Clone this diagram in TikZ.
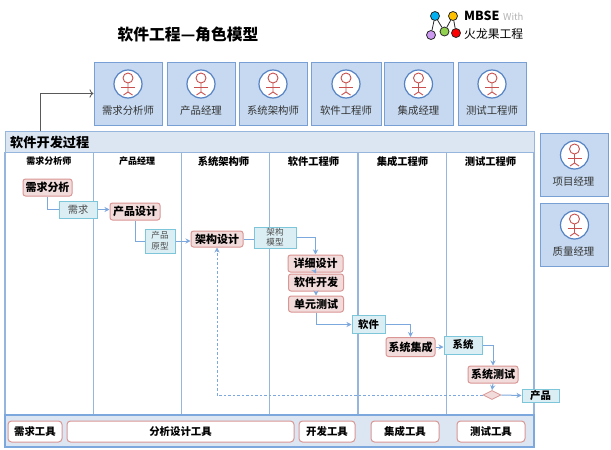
\documentclass[tikz,border=0pt]{standalone}
\usepackage{fontspec}
\setmainfont{Noto Sans CJK SC}
\usepackage{xcolor}
\usetikzlibrary{calc,arrows.meta,shapes.geometric}
\definecolor{roleFill}{RGB}{198, 217, 240}
\definecolor{roleLine}{RGB}{120, 160, 212}
\definecolor{actorLine}{RGB}{85, 130, 195}
\definecolor{barFill}{RGB}{220, 230, 242}
\definecolor{laneLine}{RGB}{150, 182, 222}
\definecolor{actFill}{RGB}{242, 220, 219}
\definecolor{actLine}{RGB}{217, 150, 148}
\definecolor{objFill}{RGB}{219, 238, 244}
\definecolor{objLine}{RGB}{125, 198, 218}
\definecolor{flowLine}{RGB}{125, 168, 222}
\definecolor{figRed}{RGB}{200, 80, 78}
\definecolor{logoBlue}{RGB}{0, 176, 240}
\definecolor{logoYellow}{RGB}{255, 192, 0}
\definecolor{logoPurple}{RGB}{204, 153, 240}
\definecolor{logoGreen}{RGB}{146, 208, 80}
\newcommand{\px}[1]{\fontsize{#1}{#1}\selectfont}
\tikzset{
  rolebox/.style={draw=roleLine,fill=roleFill,line width=1pt,inner sep=0pt},
  rolename/.style={font=\px{10.4},text=black!80,inner sep=0pt},
  lanehead/.style={font=\px{10.3}\bfseries,inner sep=0pt},
  act/.style={draw=actLine,fill=actFill,line width=1pt,rounded corners=2.5pt,font=\px{11}\bfseries,inner sep=0pt},
  obj/.style={draw=objLine,fill=objFill,line width=1pt,inner sep=0pt,font=\px{10.2}},
  tool/.style={draw=actLine,fill=white,line width=1pt,rounded corners=3.5pt,font=\px{10.4}\bfseries,inner sep=0pt},
  flow/.style={draw=flowLine,line width=1pt,-{Stealth[length=5pt,width=5pt]}},
  logodot/.style={draw=black!85,line width=0.8pt,circle,minimum size=9pt,inner sep=0pt},
  actor/.pic={
    \draw[actorLine,fill=white,line width=1.2pt] (0,0) circle (14);
    \draw[figRed,line width=0.9pt] (0,-6) circle (5);
    \draw[figRed,line width=0.9pt] (0,-1) -- (0,8) -- (-4.5,11);
    \draw[figRed,line width=0.9pt] (0,8) -- (4.5,11);
    \draw[figRed,line width=0.9pt] (-7,3.5) -- (7,3.5);
  }
}

\begin{document}
\begin{tikzpicture}[x=1pt,y=-1pt]
    \useasboundingbox (0,0) rectangle (611,450);
    \node[font=\px{15.8}\bfseries,inner sep=0pt] (title) at (188,34) {软件工程—角色模型};
    % logo
    \node[logodot,fill=logoBlue] (dotBlue) at (435,16) {};
    \node[logodot,fill=logoYellow] (dotYellow) at (453,16) {};
    \node[logodot,fill=logoPurple] (dotPurple) at (431,35) {};
    \node[logodot,fill=logoGreen] (dotGreen) at (444.5,31.5) {};
    \node[logodot,fill=red] (dotRed) at (456,33) {};
    \draw[black!85,line width=0.8pt] (dotPurple) -- (dotBlue) -- (dotGreen) -- (dotYellow) -- (dotRed);
    \node[anchor=west,font=\px{12.5}\bfseries,inner sep=0pt] (logoA) at (464,16) {MBSE};
    \node[anchor=west,font=\px{9.5},text=black!30,inner sep=0pt] (logoB) at (503,17) {With};
    \node[anchor=west,font=\px{11.8},inner sep=0pt] (logoC) at (464,34.5) {火龙果工程};
    % roles
    \foreach \xa/\xb/\nm/\lab in {94/162/roleA/需求分析师,167/235/roleB/产品经理,239/307/roleC/系统架构师,311/381/roleD/软件工程师,384/453/roleE/集成经理,458/526/roleF/测试工程师}{
      \node[rolebox,minimum width={\xb-\xa},minimum height=63] (\nm) at ({(\xa+\xb)/2},93.5) {};
      \pic at ({(\xa+\xb)/2},84) {actor};
      \node[rolename] at ({(\xa+\xb)/2},111) {\lab};
    }
    \foreach \yc/\nm/\lab in {164.5/roleG/项目经理,234.5/roleH/质量经理}{
      \node[rolebox,minimum width=68,minimum height=63] (\nm) at (574,\yc) {};
      \pic at (574.5,\yc-9.5) {actor};
      \node[rolename] at (573.5,\yc+17.5) {\lab};
    }
    % lanes
    \draw[fill=white,draw=none] (5,152) rectangle (534,415);
    \foreach \xa in {93,181,269,446}{
      \draw[laneLine,line width=0.8pt] (\xa,152) -- (\xa,415);
    }
    \draw[laneLine,line width=1.3pt] (5,152) -- (5,415);
    \draw[laneLine,line width=1.3pt] (358,152) -- (358,415);
    \draw[laneLine,line width=1.3pt] (534,152) -- (534,415);
    \node[draw=laneLine,fill=barFill,line width=1pt,minimum width=529,minimum height=21,inner sep=0pt] (procBar) at (269.5,141.5) {};
    \node[anchor=west,font=\px{13.2}\bfseries,inner sep=0pt] (procTitle) at (10,142) {软件开发过程};
    \coordinate (procUp) at (40,131);
    \draw[black!65,line width=0.8pt,-{To[length=4pt]}] (procUp) |- (roleA.west);
    \node[lanehead,font=\px{9}\bfseries] at (49,161) {需求分析师};
    \node[lanehead,font=\px{9}\bfseries] at (137,161) {产品经理};
    \node[lanehead] at (223.5,162) {系统架构师};
    \node[lanehead] at (313.5,161.5) {软件工程师};
    \node[lanehead] at (402.5,161.5) {集成工程师};
    \node[lanehead] at (490.5,161.5) {测试工程师};
    % tools
    \node[draw=flowLine,fill=barFill,line width=1.1pt,minimum width=529,minimum height=32,inner sep=0pt] (toolBar) at (269.5,431) {};
    \node[tool,minimum width=54,minimum height=21] (toolA) at (35,431.5) {需求工具};
    \node[tool,minimum width=227,minimum height=21] (toolB) at (180.5,431.5) {分析设计工具};
    \node[tool,minimum width=56,minimum height=21] (toolC) at (327,431.5) {开发工具};
    \node[tool,minimum width=68,minimum height=21] (toolD) at (405,431.5) {集成工具};
    \node[tool,minimum width=68,minimum height=21] (toolE) at (491,431.5) {测试工具};
    % activities
    \node[act,minimum width=49,minimum height=17] (actReq) at (47.5,187.5) {需求分析};
    \node[act,minimum width=50,minimum height=17] (actProd) at (135,211.5) {产品设计};
    \node[act,minimum width=52,minimum height=16] (actArch) at (217,239) {架构设计};
    \node[act,minimum width=55,minimum height=17] (actDet) at (315.5,263.5) {详细设计};
    \node[act,minimum width=55,minimum height=17] (actDev) at (316,282.5) {软件开发};
    \node[act,minimum width=55,minimum height=16] (actUnit) at (316,304) {单元测试};
    \node[act,minimum width=49,minimum height=19] (actInt) at (410.5,347) {系统集成};
    \node[act,minimum width=50,minimum height=17] (actSys) at (493,374.5) {系统测试};
    \node[diamond,draw=actLine,fill=actFill,line width=0.8pt,minimum width=18,minimum height=9,inner sep=0pt] (gate) at (492,395) {};
    % artifacts
    \node[obj,text=black!70,minimum width=38,minimum height=17] (objReq) at (78,209.5) {需求};
    \node[obj,text=black!70,minimum width=30,minimum height=24,align=center,font=\px{8.6}] (objProto) at (160,241) {产品\\[2pt]原型};
    \node[obj,text=black!70,minimum width=42,minimum height=21,align=center,font=\px{8.6}] (objModel) at (275,237.5) {架构\\[1pt]模型};
    \node[obj,font=\px{10.4}\bfseries,minimum width=33,minimum height=18] (objSoft) at (368.5,324.5) {软件};
    \node[obj,font=\px{10.4}\bfseries,minimum width=38,minimum height=18] (objSys) at (463,345) {系统};
    \node[obj,font=\px{10.4}\bfseries,minimum width=37,minimum height=13] (objProd) at (540.5,395.5) {产品};
    % flows
    \draw[flowLine,line width=1pt] (actReq.south) |- (objReq.west);
    \draw[flow] (objReq.east) -- (objReq.east -| actProd.west);
    \draw[flowLine,line width=1pt] (actProd.south) |- (objProto.west);
    \draw[flow] (objProto.east) -- (objProto.east -| actArch.west);
    \draw[flowLine,line width=1pt] (actArch.east) -- (objModel.west |- actArch.east);
    \draw[flow] (objModel.east) -| (actDet.north);
    \draw[flow] (actDet.south) -- (actDev.north);
    \draw[flow] (actDev.south) -- (actUnit.north);
    \draw[flow] (actUnit.south) |- (objSoft.west);
    \draw[flow] (objSoft.east) -| (actInt.north);
    \draw[flow] (actInt.east) -- (objSys.west |- actInt.east);
    \draw[flow] (objSys.east) -| (actSys.north);
    \draw[flow] (actSys.south) -- (gate.north);
    \draw[flow] (gate.east) -- (objProd.west);
    \draw[flow,line width=0.8pt,dash pattern=on 2.5pt off 2pt] (gate.west) -| (actArch.south);
\end{tikzpicture}
\end{document}
